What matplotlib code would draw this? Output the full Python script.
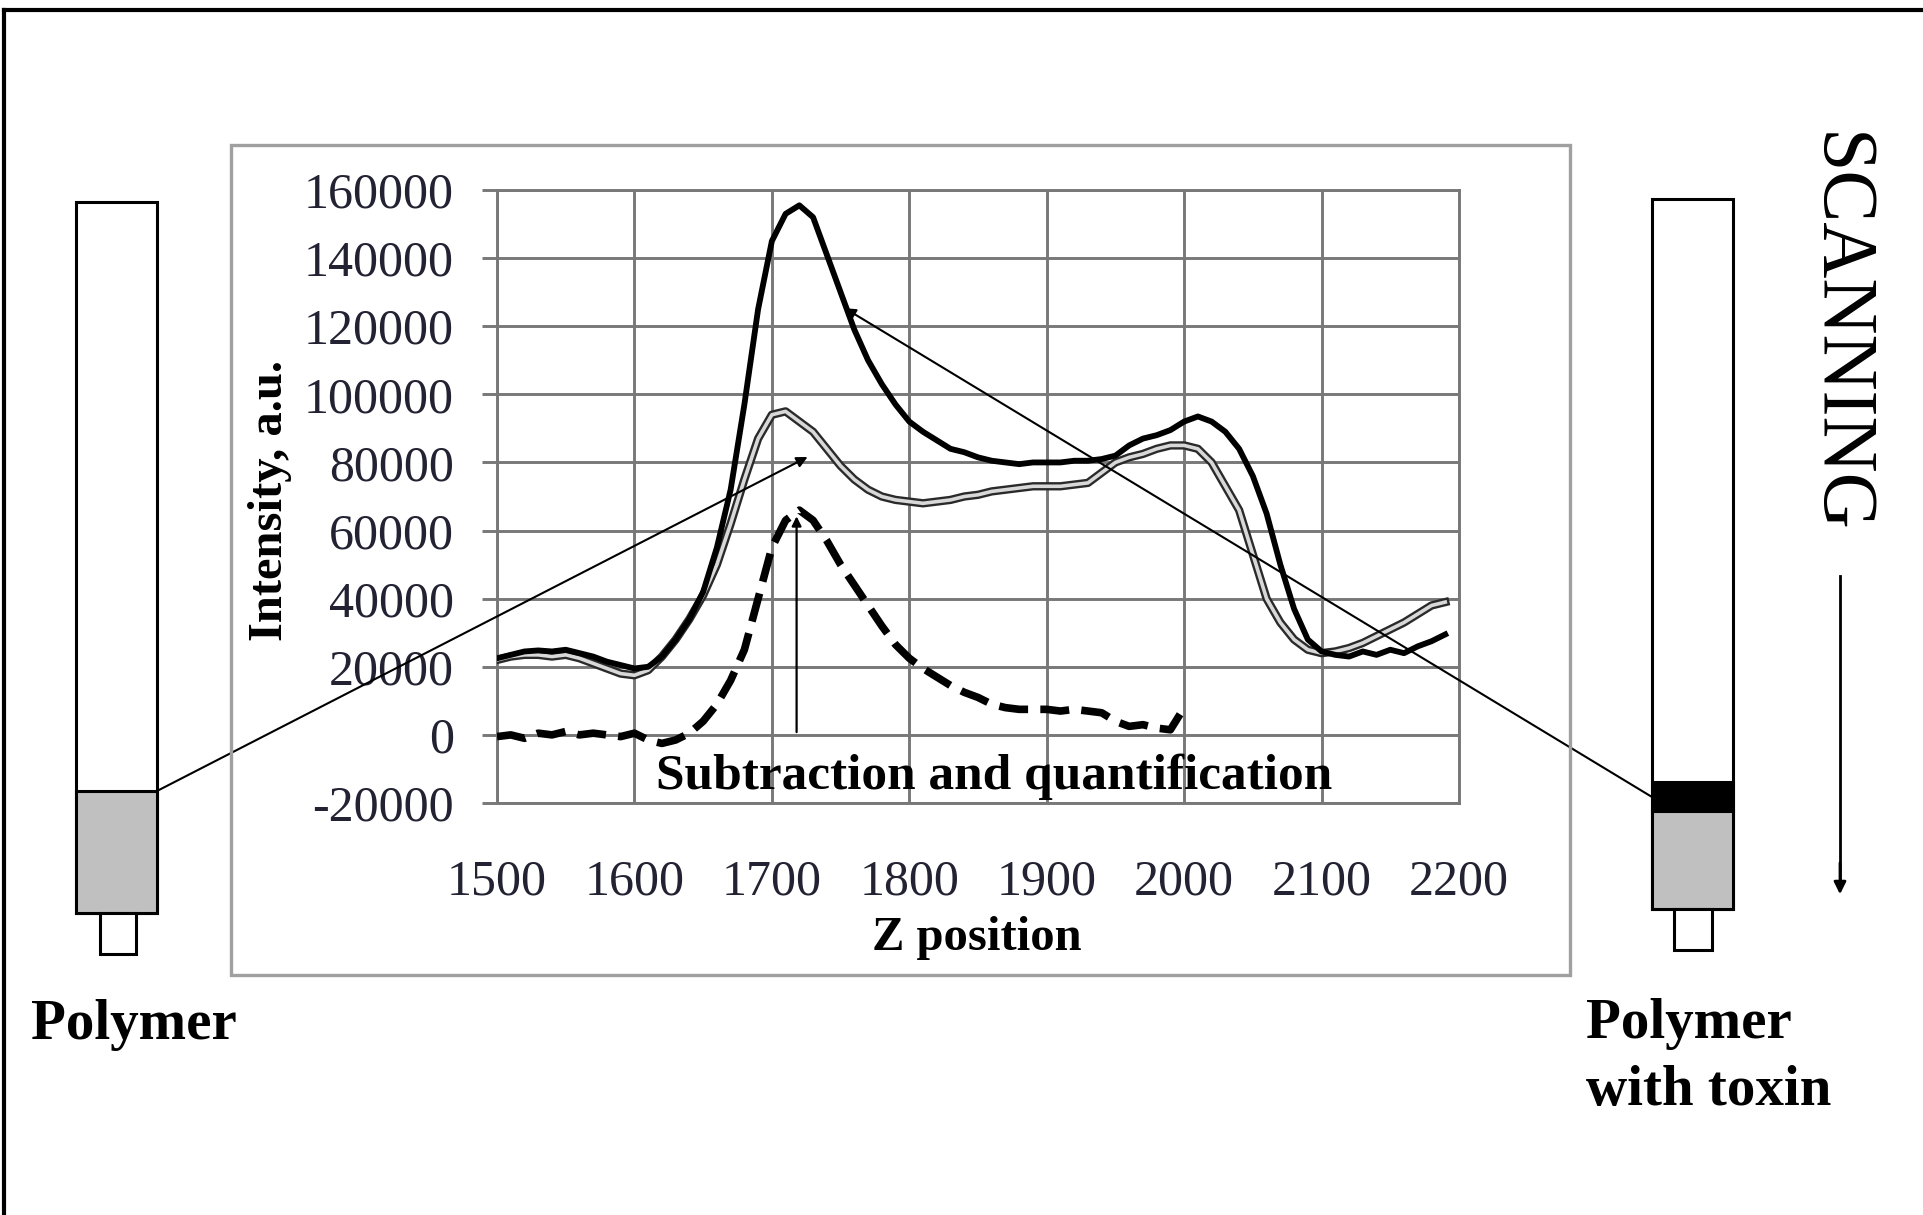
import numpy as np
import matplotlib
matplotlib.use("Agg")
import matplotlib.pyplot as plt
from matplotlib.patches import Rectangle
from matplotlib.lines import Line2D

# z positions shared by the scans
z = [1500, 1510, 1520, 1530, 1540, 1550, 1560, 1570, 1580, 1590,
     1600, 1610, 1620, 1630, 1640, 1650, 1660, 1670, 1680, 1690,
     1700, 1710, 1720, 1730, 1740, 1750, 1760, 1770, 1780, 1790,
     1800, 1810, 1820, 1830, 1840, 1850, 1860, 1870, 1880, 1890,
     1900, 1910, 1920, 1930, 1940, 1950, 1960, 1970, 1980, 1990,
     2000, 2010, 2020, 2030, 2040, 2050, 2060, 2070, 2080, 2090,
     2100, 2110, 2120, 2130, 2140, 2150, 2160, 2170, 2180, 2190]

# polymer with toxin (solid black)
toxin = [22500, 23500, 24500, 24800, 24500, 25000, 24000, 23000, 21500, 20500,
         19500, 20000, 23000, 28000, 34000, 42000, 55000, 72000, 97000, 125000,
         145000, 153000, 155500, 152000, 141000, 130000, 119000, 110000, 103000, 97000,
         92000, 89000, 86500, 84000, 83000, 81500, 80500, 80000, 79500, 80000,
         80000, 80000, 80500, 80500, 81000, 82000, 85000, 87000, 88000, 89500,
         92000, 93500, 92000, 89000, 84000, 76000, 65000, 50000, 37000, 28000,
         24500, 23500, 23000, 24500, 23500, 25000, 24000, 26000, 27500, 29500]

# polymer only (double gray line)
polymer = [22000, 23000, 23500, 23500, 23000, 23500, 22500, 21000, 19500, 18000,
           17500, 19000, 23000, 28000, 34000, 41000, 50000, 62000, 75000, 87000,
           94000, 95000, 92000, 89000, 84000, 79000, 75000, 72000, 70000, 69000,
           68500, 68000, 68500, 69000, 70000, 70500, 71500, 72000, 72500, 73000,
           73000, 73000, 73500, 74000, 77000, 80000, 81500, 82500, 84000, 85000,
           85000, 84000, 80000, 73000, 66000, 53000, 40000, 33000, 28000, 25000,
           24000, 24500, 25500, 27000, 29000, 31000, 33000, 35500, 38000, 39000]

# difference (dashed), measured up to z = 2000
z_diff = z[:51]
diff = [-500, 0, -1000, 500, 0, 1000, 0, 500, 0, -500,
        500, -1500, -2500, -1500, 500, 4000, 9000, 16000, 25000, 40000,
        55000, 63000, 66000, 63000, 57000, 50000, 44000, 38000, 32000, 26500,
        22500, 19500, 17000, 14500, 12500, 11000, 9000, 8000, 7500, 7500,
        7500, 7000, 7500, 7000, 6500, 4000, 2500, 3000, 2000, 1500,
        8000]

x_ticks = [1500, 1600, 1700, 1800, 1900, 2000, 2100, 2200]
y_ticks = [-20000, 0, 20000, 40000, 60000, 80000, 100000, 120000, 140000, 160000]

W, H = 1923, 1215
plt.rcParams["font.family"] = ["Liberation Serif", "DejaVu Serif"]


def fx(px):
    return px / W


def fy(py):
    return 1 - py / H


fig = plt.figure(figsize=(W / 100, H / 100), dpi=100)

# outer frame (top and left edges visible)
fig.add_artist(Line2D([fx(4), fx(4)], [0, fy(10)], color="k", lw=3))
fig.add_artist(Line2D([fx(4), 1], [fy(10), fy(10)], color="k", lw=3))

# chart area box
fig.add_artist(Rectangle((fx(231), fy(975)), fx(1570) - fx(231), fy(145) - fy(975),
                         fill=False, ec="#a0a0a0", lw=2.4))

ax = fig.add_axes([fx(497), fy(803), fx(1459) - fx(497), fy(190) - fy(803)])
ax.set_xlim(1500, 2200)
ax.set_ylim(-20000, 160000)
ax.set_xticks(x_ticks)
ax.set_yticks(y_ticks)
ax.set_xticklabels([str(v) for v in x_ticks])
ax.set_yticklabels([str(v) for v in y_ticks])
ax.grid(True, color="#787878", lw=2.1)
ax.set_axisbelow(True)
for s in ax.spines.values():
    s.set_color("#787878")
    s.set_linewidth(2.1)
ax.tick_params(axis="y", direction="out", length=11, width=2.1, color="#787878",
               pad=20, labelsize=36, labelcolor="#222233")
ax.tick_params(axis="x", length=0, pad=40, labelsize=36, labelcolor="#222233")

ax.plot(z, polymer, color="#2a2a2a", lw=6.0, solid_joinstyle="round", zorder=3)
ax.plot(z, polymer, color="#d8d8d8", lw=2.6, solid_joinstyle="round", zorder=3)
ax.plot(z, toxin, color="black", lw=4.2, solid_joinstyle="round", zorder=4)
ax.plot(z_diff, diff, color="black", lw=5.5, linestyle=(0, (3.8, 1.6)), zorder=4)

ax.set_ylabel("Intensity, a.u.", fontsize=35, fontweight="bold")
ax.yaxis.set_label_coords(-0.236, 0.494)
ax.yaxis.label.set_va("center")
ax.set_xlabel("Z position", fontsize=35, fontweight="bold")
ax.xaxis.set_label_coords(0.499, -0.220)
ax.xaxis.label.set_va("center")

ax.text(1862, -12300, "Subtraction and quantification", fontsize=37,
        fontweight="bold", ha="center", va="center", zorder=5)

# arrow from baseline to the difference peak
ax.annotate("", xy=(1718, 65000), xytext=(1718, 0),
            arrowprops=dict(arrowstyle="-|>", color="black", lw=1.6, mutation_scale=14))

# lines from the tubes to the spectra
ax.annotate("", xy=(1726, 81600), xycoords="data",
            xytext=(fx(157), fy(791)), textcoords="figure fraction",
            arrowprops=dict(arrowstyle="-|>", color="black", lw=1.5, mutation_scale=16,
                            shrinkA=0, shrinkB=0), annotation_clip=False)
ax.annotate("", xy=(1753, 125300), xycoords="data",
            xytext=(fx(1652), fy(797)), textcoords="figure fraction",
            arrowprops=dict(arrowstyle="-|>", color="black", lw=1.5, mutation_scale=16,
                            shrinkA=0, shrinkB=0), annotation_clip=False)


def rect(x0, y0, x1, y1, fc="none", lw=2.2):
    fig.add_artist(Rectangle((fx(x0), fy(y1)), fx(x1) - fx(x0), fy(y0) - fy(y1),
                             fc=fc, ec="black", lw=lw))


# left tube: polymer
rect(76, 202, 157, 913, fc="white")
rect(76, 791, 157, 913, fc="#c0c0c0")
rect(100, 913, 136, 954, fc="white")

# right tube: polymer with toxin
rect(1652, 199, 1733, 909, fc="white")
rect(1652, 782, 1733, 811, fc="black")
rect(1652, 811, 1733, 909, fc="#c0c0c0")
rect(1674, 909, 1712, 950, fc="white")

fig.text(fx(31), fy(1025), "Polymer", fontsize=41, fontweight="bold", ha="left", va="center")
fig.text(fx(1586), fy(1024), "Polymer", fontsize=41, fontweight="bold", ha="left", va="center")
fig.text(fx(1586), fy(1091), "with toxin", fontsize=41, fontweight="bold", ha="left", va="center")

fig.text(fx(1838), fy(333), "SCANNING", fontsize=56, rotation=270, ha="center", va="center")
fig.add_artist(Line2D([fx(1840), fx(1840)], [fy(576), fy(880)], color="black", lw=2))
fig.patches.append(matplotlib.patches.FancyArrowPatch(
    (fx(1840), fy(860)), (fx(1840), fy(897)), transform=fig.transFigure,
    arrowstyle="-|>", mutation_scale=18, color="black", lw=2))

fig.savefig("out.png", dpi=100, facecolor="white")
